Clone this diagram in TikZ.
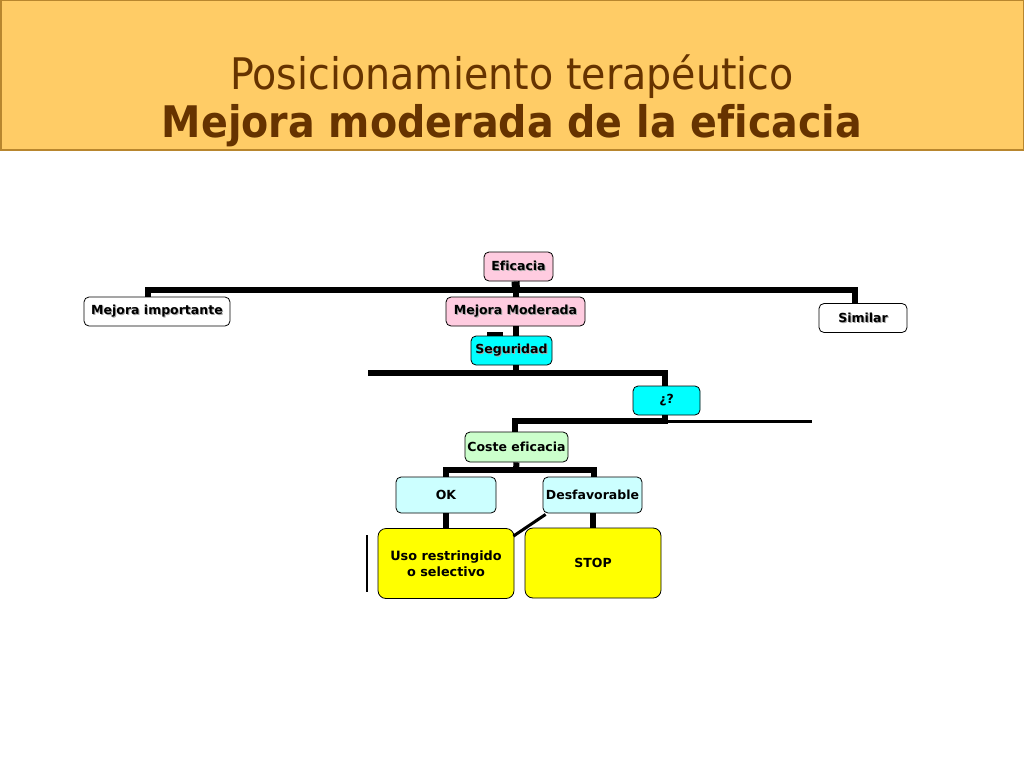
\documentclass[tikz,border=0pt]{standalone}
\usepackage{fontspec}
\setmainfont[Ligatures=NoCommon]{DejaVu Sans}
\newfontfamily\titlefont[FakeStretch=0.91,Ligatures=NoCommon]{DejaVu Sans}
\definecolor{hdr}{RGB}{255,204,102}
\definecolor{hdrline}{RGB}{184,134,46}
\definecolor{ttl}{RGB}{102,51,0}
\definecolor{pinkc}{RGB}{255,204,224}
\definecolor{cyanc}{RGB}{0,255,255}
\definecolor{greenc}{RGB}{204,255,204}
\definecolor{lcyan}{RGB}{204,255,255}
\definecolor{yell}{RGB}{255,255,0}
\newcommand\shtxt[1]{\leavevmode\rlap{\raisebox{-1pt}{\hspace{1pt}\textcolor{black!35}{#1}}}#1}
\tikzset{
  box/.style={draw=black, line width=0.8pt, rounded corners=5pt, inner sep=0pt,
    font=\bfseries\fontsize{12.5}{14}\selectfont, align=center},
  conn/.style={draw=black, line width=6pt},
  thinconn/.style={draw=black, line width=3pt}
}
\begin{document}
\begin{tikzpicture}[x=1pt,y=-1pt]
\useasboundingbox (0,0) rectangle (1024,768);
\fill[white] (0,0) rectangle (1024,768);
\draw[fill=hdr, draw=hdrline, line width=1.5pt] (0.75,0.75) rectangle (1023.25,150);
\node[anchor=base, text=ttl, font=\titlefont\fontsize{43.5}{48}\selectfont, inner sep=0] (t1) at (512,89) {Posicionamiento terapéutico};
\node[anchor=base, text=ttl, font=\titlefont\bfseries\fontsize{43.5}{48}\selectfont, inner sep=0] (t2) at (512,137) {Mejora moderada de la eficacia};

% nodes
\node[box, fill=pinkc, minimum width=69, minimum height=29] (efi) at (518.5,266.5) {\shtxt{Eficacia}};
\node[box, fill=white, minimum width=146, minimum height=29] (mi) at (157,311.5) {\shtxt{Mejora importante}};
\node[box, fill=pinkc, minimum width=139, minimum height=29] (mm) at (515.5,311.5) {\shtxt{Mejora Moderada}};
\node[box, fill=white, minimum width=88, minimum height=29] (sim) at (863,318) {\shtxt{Similar}};
\node[box, fill=cyanc, minimum width=81, minimum height=29] (seg) at (511.5,350.5) {\shtxt{Seguridad}};
\node[box, fill=cyanc, minimum width=67, minimum height=29] (q) at (666.5,400.5) {¿?};
\node[box, fill=greenc, minimum width=103, minimum height=30] (ce) at (516.5,447) {Coste eficacia};
\node[box, fill=lcyan, minimum width=100, minimum height=36] (ok) at (446,495) {OK};
\node[box, fill=lcyan, minimum width=99, minimum height=36] (des) at (592.5,495) {Desfavorable};
\node[box, fill=yell, minimum width=136, minimum height=70, rounded corners=8pt, font=\bfseries\fontsize{12.8}{16}\selectfont] (uso) at (446,563.5) {Uso restringido\\o selectivo};
\node[box, fill=yell, minimum width=136, minimum height=70, rounded corners=8pt] (stop) at (593,563) {STOP};

% coordinates
\coordinate (b1) at (516,290);
\coordinate (b2l) at (368,373);
\coordinate (b2) at (516,373);
\coordinate (b3) at (515,421);
\coordinate (b3r) at (812,421);
\coordinate (b4) at (516,470);
\coordinate (stub) at (487,334);
\coordinate (vl1) at (367,535);
\coordinate (vl2) at (367,592);

% connectors
\draw[conn, line width=8pt] ([xshift=-3]efi.south) -- (b1);
\draw[conn] (b1) -- ([xshift=0.5]mm.north);
\draw[conn] ([xshift=-9]mi.north) |- (b1);
\draw[conn] ([xshift=-8]sim.north) |- (b1);
\draw[conn] ([xshift=0.5]mm.south) -- ([xshift=4.5]seg.north);
\draw[conn, line width=4pt] (stub) -- ++(16,0);
\draw[conn] ([xshift=4.5]seg.south) -- (b2);
\draw[conn] (b2l) -- (b2) -| ([xshift=-1.5]q.north);
\draw[thinconn] ([xshift=-1.5]q.south) |- (b3r);
\draw[conn] ([xshift=-1.5]q.south) |- (b3) -- ([xshift=-1.5]ce.north);
\draw[conn] (ce.south) -- (b4);
\draw[conn] (ok.north) |- (b4) -| ([xshift=1.5]des.north);
\draw[conn] (ok.south) -- (uso.north);
\draw[conn] ([xshift=0.5]des.south) -- (stop.north);
\draw[thinconn] ([xshift=3,yshift=-1]des.south west) -- ([xshift=-1,yshift=-8]uso.north east);
\draw[black, line width=1.5pt] (vl1) -- (vl2);
\end{tikzpicture}
\end{document}
